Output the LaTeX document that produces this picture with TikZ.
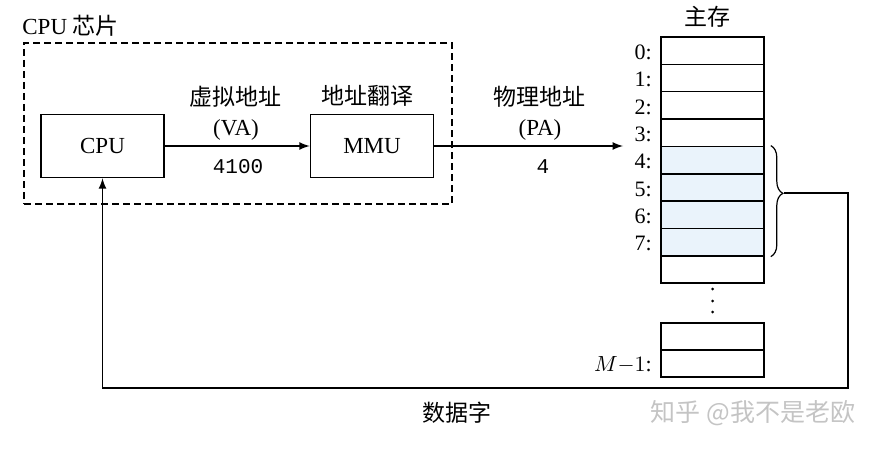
\documentclass[tikz,border=0pt]{standalone}
\usepackage{fontspec}
\setmainfont{Liberation Serif}
\setmonofont{Liberation Mono}
\newfontfamily\cjk{Noto Sans CJK SC}
\usepackage{tikz}
\usetikzlibrary{decorations.pathreplacing}
\definecolor{cellblue}{RGB}{234,243,251}
\definecolor{markgray}{RGB}{196,196,196}

\begin{document}
\begin{tikzpicture}[x=0.5pt, y=-0.5pt, >=latex,
        font=\fontsize{11.5}{13}\selectfont,
        box/.style={draw, line width=0.8pt, minimum width=61.5pt, minimum height=31.5pt, inner sep=0pt},
        cell/.style={draw, line width=0.8pt, minimum width=51.5pt, minimum height=13.7pt, inner sep=0pt},
        addr/.style={anchor=east, inner sep=0pt, font=\fontsize{11}{13}\selectfont},
        num/.style={font=\fontsize{10.5}{12}\ttfamily},
        link/.style={->, line width=0.8pt}]
                \useasboundingbox (0,0) rectangle (882,449);

                % CPU chip (dashed)
                \node[draw, dash pattern=on 3.5pt off 2pt, line width=0.7pt, minimum width=214pt, minimum height=80.5pt, inner sep=0pt] (chip) at (238,123.5) {};
                \node[anchor=base west, inner sep=0pt] (chiplabel) at (22,35) {CPU {\cjk 芯片}};
                \node[box] (cpu) at (102.5,146) {CPU};
                \node[box] (mmu) at (372,146) {MMU};
                \draw[link] (cpu) -- (mmu);
                \node (vaname) at (235,97) {\cjk 虚拟地址};
                \node (va) at (236,130) {(VA)};
                \node[num] (vanum) at (238,167) {4100};
                \node (trans) at (367,96) {\cjk 地址翻译};

                % Physical address
                \coordinate (pa) at (623,146);
                \draw[link] (mmu) -- (pa);
                \node (paname) at (539,97) {\cjk 物理地址};
                \node (paabbr) at (540,130) {(PA)};
                \node[num] (panum) at (543,167) {4};

                % Main memory
                \node (memlabel) at (707,17) {\cjk 主存};
                \foreach \i/\shade in {0/white,1/white,2/white,3/white,4/cellblue,5/cellblue,6/cellblue,7/cellblue,8/white}
                    \node[cell, fill=\shade] (c\i) at (712.5,{50.7+27.35*\i}) {};
                \foreach \i in {0,...,7}
                    \node[addr] (a\i) at ([xshift=-4pt, yshift=-0.8pt]c\i.west) {\i:};
                \foreach \y in {289,301,312}
                    \fill (712.5,\y) circle (0.75pt);
                \node[cell] (cm2) at (712.5,336.5) {};
                \node[cell] (cm1) at (712.5,363.5) {};
                \node[addr] (am1) at ([xshift=-4pt, yshift=-0.8pt]cm1.west) {$M{-}1$:};

                % Data word back to CPU
                \draw[line width=0.6pt, decorate, decoration={brace, amplitude=6pt, aspect=0.43}]
                    ([xshift=3pt]c4.north east) -- ([xshift=3pt]c7.south east);
                \coordinate (tip) at (784,193);
                \coordinate (turn) at (848,388);
                \draw[link] (tip) -| (turn) -| (cpu.south);
                \node (word) at (457,413) {\cjk 数据字};

                \node[text=markgray, font=\fontsize{12.5}{14}\selectfont] (mark) at (753,413) {\cjk 知乎 @我不是老欧};
\end{tikzpicture}
\end{document}
